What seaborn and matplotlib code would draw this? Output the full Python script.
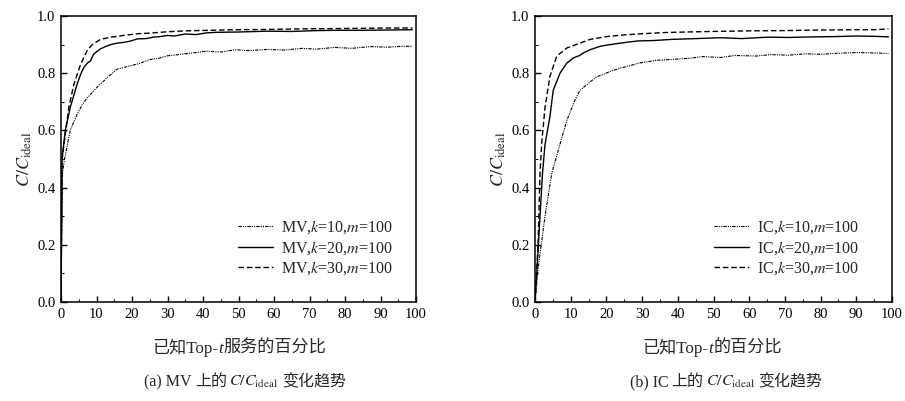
import numpy as np
import pandas as pd
import matplotlib
matplotlib.use("Agg")
import matplotlib.pyplot as plt
import seaborn as sns
from matplotlib.ticker import MultipleLocator

# ---------------- data ----------------
mv_k10_x = [0, 0.4, 1, 2.6, 4.5, 6, 7.4, 9, 10.2, 12, 13, 14.5, 15.8, 17.7, 19.5, 21.5, 23, 25, 27.5, 30, 32.5, 35, 38, 41, 45, 49, 53, 58, 63, 68, 72, 77, 82, 87, 92, 96, 99]
mv_k10_y = [0, 0.45, 0.50, 0.60, 0.655, 0.69, 0.714, 0.735, 0.752, 0.772, 0.785, 0.80, 0.814, 0.82, 0.826, 0.832, 0.838, 0.848, 0.852, 0.861, 0.864, 0.868, 0.872, 0.877, 0.874, 0.882, 0.879, 0.883, 0.881, 0.887, 0.884, 0.89, 0.887, 0.893, 0.891, 0.894, 0.894]

mv_k20_x = [0, 0.3, 1.2, 2.6, 4.5, 5.5, 6.4, 7.4, 8.3, 9.2, 11.1, 12.5, 14, 15.8, 17.7, 19.5, 21.5, 24, 26, 28, 30, 32, 35, 38, 41, 44, 50, 58, 65, 72, 77, 85, 92, 99]
mv_k20_y = [0, 0.50, 0.60, 0.68, 0.76, 0.795, 0.82, 0.835, 0.843, 0.867, 0.885, 0.893, 0.90, 0.905, 0.908, 0.912, 0.920, 0.921, 0.926, 0.928, 0.932, 0.930, 0.937, 0.935, 0.941, 0.943, 0.944, 0.947, 0.946, 0.949, 0.950, 0.950, 0.951, 0.952]

mv_k30_x = [0, 0.3, 1.2, 2.2, 3.6, 5.5, 7.4, 8.8, 11.1, 14, 17.7, 21.5, 25, 30, 35, 42, 49, 58, 68, 77, 85, 92, 99]
mv_k30_y = [0, 0.50, 0.585, 0.68, 0.76, 0.83, 0.88, 0.90, 0.918, 0.926, 0.932, 0.938, 0.940, 0.945, 0.948, 0.950, 0.952, 0.953, 0.955, 0.956, 0.957, 0.958, 0.958]

ic_k10_x = [0, 0.9, 2.8, 4.7, 6.5, 8.9, 11.2, 12.6, 15, 17.3, 19, 21, 24, 26.5, 29, 31.5, 34, 38, 43, 47, 52, 56, 62, 66, 71, 76, 80, 85, 90, 95, 99]
ic_k10_y = [0, 0.12, 0.30, 0.45, 0.53, 0.635, 0.706, 0.74, 0.765, 0.788, 0.795, 0.806, 0.818, 0.826, 0.835, 0.840, 0.845, 0.848, 0.852, 0.858, 0.855, 0.862, 0.860, 0.865, 0.863, 0.868, 0.866, 0.870, 0.872, 0.871, 0.869]

ic_k20_x = [0, 0.5, 1.4, 2.1, 2.8, 4.2, 5.1, 7, 8.9, 10.7, 12.5, 13.6, 15.4, 18.2, 21, 25, 29, 33, 38, 45, 52, 58, 65, 71, 78, 84, 90, 95, 99]
ic_k20_y = [0, 0.10, 0.30, 0.45, 0.55, 0.65, 0.74, 0.80, 0.835, 0.853, 0.862, 0.871, 0.882, 0.894, 0.900, 0.907, 0.913, 0.914, 0.918, 0.921, 0.924, 0.921, 0.926, 0.925, 0.927, 0.928, 0.930, 0.929, 0.927]

ic_k30_x = [0, 0.9, 1.4, 1.9, 2.8, 4.2, 6.1, 8.9, 12.6, 15.4, 20, 25, 30, 36, 42, 50, 60, 70, 80, 90, 95, 99]
ic_k30_y = [0, 0.215, 0.45, 0.56, 0.68, 0.79, 0.86, 0.888, 0.905, 0.918, 0.928, 0.934, 0.938, 0.942, 0.944, 0.946, 0.948, 0.949, 0.951, 0.952, 0.952, 0.955]

x_ticks = [0, 10, 20, 30, 40, 50, 60, 70, 80, 90, 100]
y_ticks = [0.0, 0.2, 0.4, 0.6, 0.8, 1.0]

left_labels = ["MV,$k$=10,$m$=100", "MV,$k$=20,$m$=100", "MV,$k$=30,$m$=100"]
right_labels = ["IC,$k$=10,$m$=100", "IC,$k$=20,$m$=100", "IC,$k$=30,$m$=100"]
ylabel = r"$C/C_{\mathrm{ideal}}$"
# mixed-script texts as pieces: (text, kind) kind: 'n' normal, 'i' italic, 'm' math
left_xlabel = [("已知Top-", "n"), ("t", "i"), ("服务的百分比", "n")]
right_xlabel = [("已知Top-", "n"), ("t", "i"), ("的百分比", "n")]
left_caption = [("(a) MV", "n"), ("上的", "n"), (r"$C/C_{\mathrm{ideal}}$", "m"), ("变化趋势", "n")]
right_caption = [("(b) IC", "n"), ("上的", "n"), (r"$C/C_{\mathrm{ideal}}$", "m"), ("变化趋势", "n")]

# ---------------- style ----------------
sns.set_theme(style="ticks")
FAM = ["Liberation Serif", "Noto Sans CJK SC", "DejaVu Sans"]
plt.rcParams["font.family"] = FAM
plt.rcParams["mathtext.fontset"] = "stix"
plt.rcParams["axes.linewidth"] = 1.1

styles = [
    dict(linestyle=(0, (3, 1, 1, 1, 1, 1)), linewidth=0.8),
    dict(linestyle="-", linewidth=1.0),
    dict(linestyle=(0, (4, 2)), linewidth=1.0),
]

W, H = 905, 401
fig = plt.figure(figsize=(W / 100, H / 100), dpi=100)
ax1 = fig.add_axes([61 / W, 1 - 302 / H, 355 / W, 286 / H])
ax2 = fig.add_axes([535 / W, 1 - 302 / H, 357 / W, 286 / H])

panels = [
    (ax1, [(mv_k10_x, mv_k10_y), (mv_k20_x, mv_k20_y), (mv_k30_x, mv_k30_y)], left_labels, 0.952),
    (ax2, [(ic_k10_x, ic_k10_y), (ic_k20_x, ic_k20_y), (ic_k30_x, ic_k30_y)], right_labels, 0.925),
]

for ax, series, labels, lx in panels:
    for (xs, ys), lab, st in zip(series, labels, styles):
        df = pd.DataFrame({"x": xs, "y": ys})
        sns.lineplot(data=df, x="x", y="y", ax=ax, color="black", label=lab,
                     estimator=None, sort=False, **st)
    ax.set_xlim(0, 100)
    ax.set_ylim(0, 1.0)
    ax.set_xticks(x_ticks)
    ax.set_yticks(y_ticks)
    ax.set_yticklabels([f"{v:.1f}" for v in y_ticks])
    ax.xaxis.set_minor_locator(MultipleLocator(5))
    ax.yaxis.set_minor_locator(MultipleLocator(0.1))
    ax.tick_params(which="both", direction="in", colors="black", labelsize=10.5,
                   top=False, right=False)
    ax.tick_params(which="major", length=4.5, width=1.0, pad=4)
    ax.tick_params(which="minor", length=2.5, width=0.8)
    for s in ax.spines.values():
        s.set_visible(True)
        s.set_color("black")
    ax.set_xlabel("")
    ax.set_ylabel(ylabel, fontsize=13)
    ax.yaxis.set_label_coords(-0.075, 0.5)
    ax.grid(False)
    ax.set_facecolor("white")
    ax.legend(loc="center right", bbox_to_anchor=(lx, 0.19), frameon=False,
              fontsize=11.5, handlelength=2.2, handletextpad=0.5,
              labelspacing=0.2, borderaxespad=0)


def mixed_text(pieces, cx, baseline_px, fontsize, gap_px):
    """Place text pieces side by side on one baseline, centred on cx (pixels)."""
    texts = []
    for s, kind in pieces:
        kw = dict(fontsize=fontsize, va="baseline", ha="left")
        if kind == "i":
            kw.update(family=FAM, style="italic")
        elif kind == "n":
            kw.update(family=FAM)
        texts.append(fig.text(0, 1 - baseline_px / H, s, **kw))
    return (texts, cx, gap_px)


pending = [
    mixed_text(left_xlabel, 239, 353, 12.3, [-0.5, 0.5]),
    mixed_text(right_xlabel, 712, 353, 12.3, [-0.5, 0.5]),
    mixed_text(left_caption, 245, 386, 11.5, [3, 2.5, 3]),
    mixed_text(right_caption, 726, 386, 11.5, [3, 2.5, 3]),
]

fig.canvas.draw()
r = fig.canvas.get_renderer()
for texts, cx, gaps in pending:
    widths = [t.get_window_extent(r).width for t in texts]
    total = sum(widths) + sum(gaps)
    x = cx - total / 2
    for i, t in enumerate(texts):
        t.set_x(x / W)
        x += widths[i] + (gaps[i] if i < len(gaps) else 0)

fig.savefig("out.png", dpi=100, facecolor="white")
